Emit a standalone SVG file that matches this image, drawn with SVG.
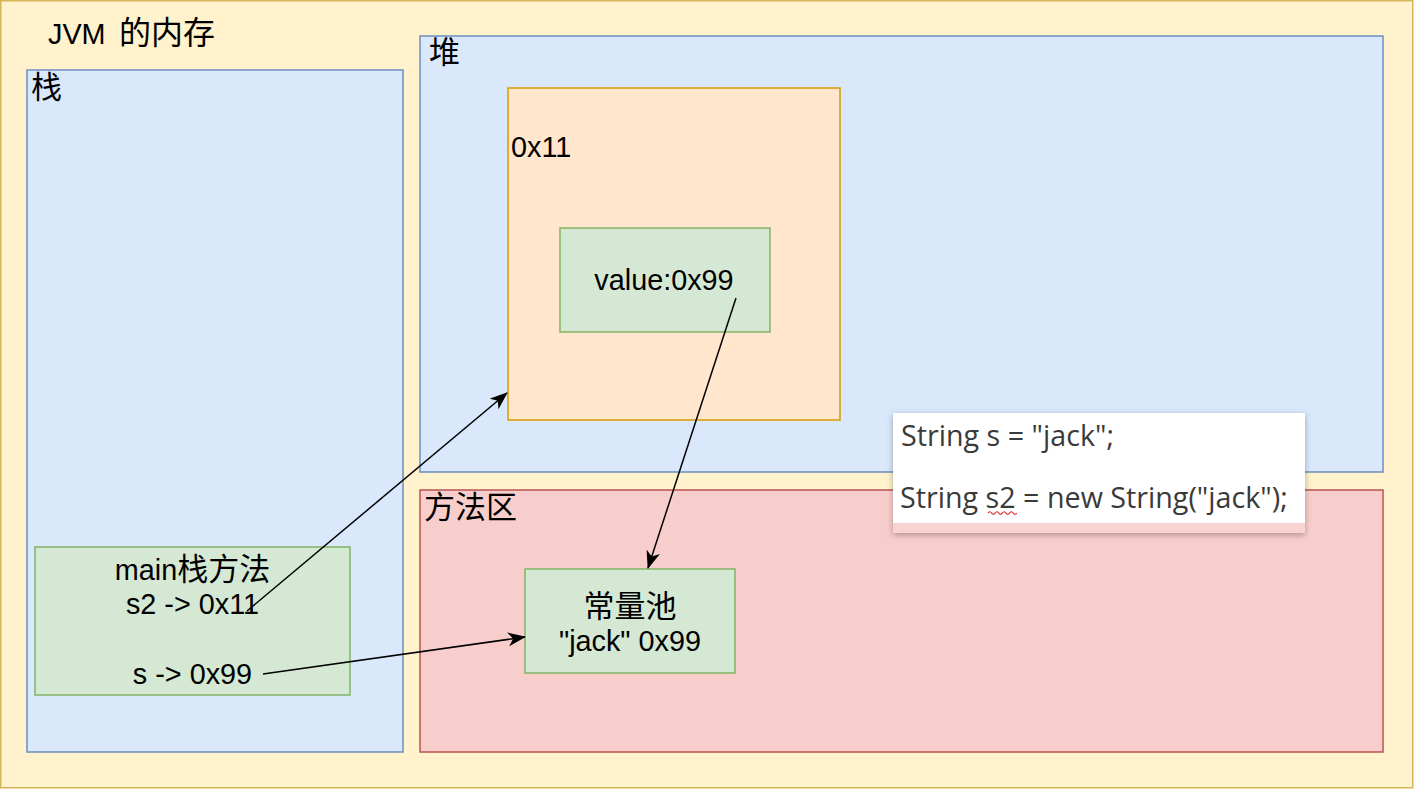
<svg xmlns="http://www.w3.org/2000/svg" width="1414" height="789" viewBox="0 0 1414 789">
<style>
.t{font-family:"Liberation Sans","Noto Sans CJK SC",sans-serif;font-size:28.8px;fill:#000}
.cj{font-size:31px}
.c{text-anchor:middle}
.green{fill:#d5e8d4;stroke:#82b366;stroke-width:1.5}
.blue{fill:#dae8fc;stroke:#6c8ebf;stroke-width:1.5}
.code{font-family:"Open Sans","Noto Sans",sans-serif;font-size:28.7px;fill:#3a3a3a}
.edge{fill:none;stroke:#000;stroke-width:1.5}
</style>
<defs>
<marker id="arrL" markerWidth="18" markerHeight="14" viewBox="0 0 18 14" refX="17" refY="7" orient="auto" markerUnits="userSpaceOnUse">
<path d="M0,0 L18,7 L0,14 L5,7 Z" fill="#000"/>
</marker>
<filter id="sh" x="-10%" y="-20%" width="120%" height="140%">
<feDropShadow dx="0" dy="2" stdDeviation="3" flood-color="#000" flood-opacity="0.3"/>
</filter>
</defs>
<g id="jvm">
<rect x="0.75" y="0.75" width="1412" height="787" fill="#fff2cc" stroke="#d6b656" stroke-width="1.5"/>
<text class="t" x="48" y="44">JVM <tspan x="119" style="font-size:32px">的内存</tspan></text>
</g>
<g id="stack">
<rect class="blue" x="27" y="70" width="376" height="682"/>
<text class="t cj" x="31" y="98">栈</text>
</g>
<g id="heap">
<rect class="blue" x="420" y="36" width="963" height="436"/>
<text class="t cj" x="429" y="63">堆</text>
</g>
<g id="method-area">
<rect x="420" y="490" width="963" height="262" fill="#f8cecc" stroke="#b85450" stroke-width="1.5"/>
<text class="t cj" x="424" y="518">方法区</text>
</g>
<g id="heap-object">
<rect x="508" y="88" width="332" height="332" fill="#ffe6cc" stroke="#d79b00" stroke-width="1.5"/>
<text class="t" x="511" y="157">0x11</text>
</g>
<g id="value">
<rect class="green" x="560" y="228" width="210" height="104"/>
<text class="t c" x="664" y="290">value:0x99</text>
</g>
<g id="main">
<rect class="green" x="35" y="547" width="315" height="148"/>
<text class="t c" x="192.5" y="580">main<tspan class="cj">栈方法</tspan></text>
<text class="t c" x="192.5" y="614">s2 -&gt; 0x11</text>
<text class="t c" x="192.5" y="684">s -&gt; 0x99</text>
</g>
<g id="constant-pool">
<rect class="green" x="525" y="569" width="210" height="104"/>
<text class="t c cj" x="630" y="617">常量池</text>
<text class="t c" x="630" y="651">"jack" 0x99</text>
</g>
<g id="code">
<rect x="893" y="413" width="412" height="120" fill="#ffffff" filter="url(#sh)"/>
<rect x="893" y="523" width="412" height="10" fill="#f9d3d1"/>
<text class="code" x="901" y="446">String s = "jack";</text>
<text class="code" x="900" y="508">String s2 = new String("jack");</text>
<path d="M988,513 q1.8,-2.5 3.6,0 t3.6,0 t3.6,0 t3.6,0 t3.6,0 t3.6,0 t3.6,0 t3.6,0" fill="none" stroke="#e02020" stroke-width="1.2"/>
</g>
<g id="connectors">
<line class="edge" x1="247" y1="611" x2="507" y2="393" marker-end="url(#arrL)"/>
<line class="edge" x1="736" y1="298" x2="648" y2="568" marker-end="url(#arrL)"/>
<line class="edge" x1="263" y1="674" x2="525" y2="637" marker-end="url(#arrL)"/>
</g>
</svg>
